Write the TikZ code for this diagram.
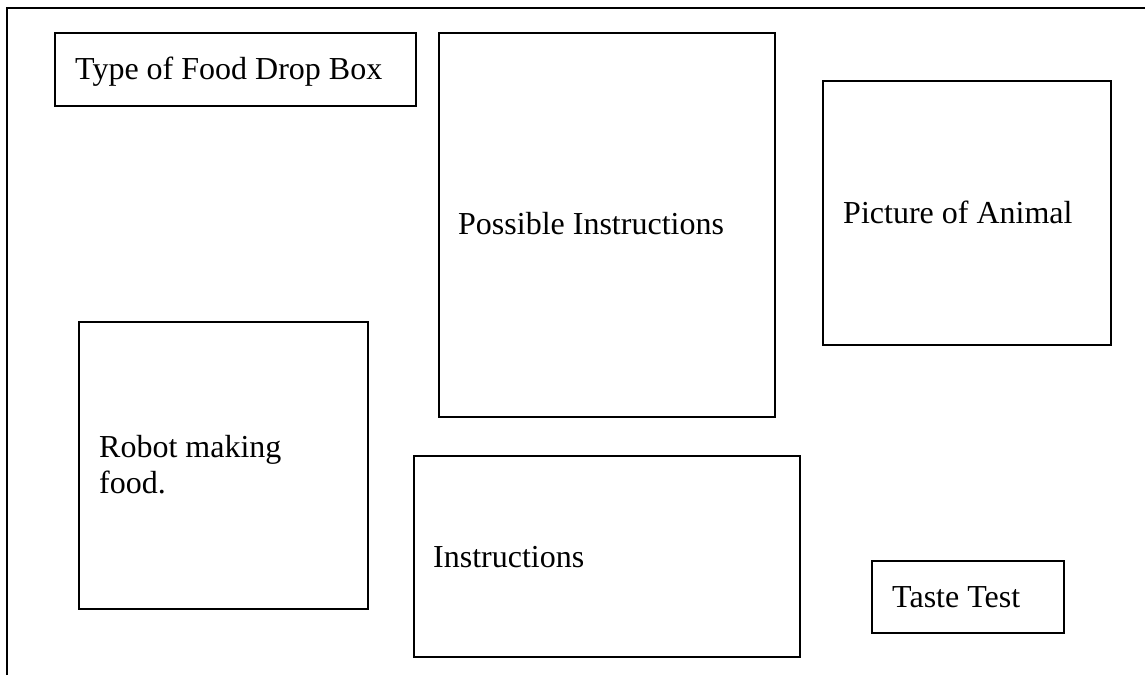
\documentclass[tikz,border=0pt]{standalone}
\usepackage{fontspec}
\setmainfont{Liberation Serif}
\begin{document}
\begin{tikzpicture}[x=1pt,y=-1pt,
  box/.style={draw=black,line width=1.8pt,anchor=north west,inner sep=0pt,minimum width=#1},
  label/.style={anchor=base west,inner sep=0pt,font=\fontsize{32}{36}\selectfont}]
\useasboundingbox (0,0) rectangle (1145,675);
\draw[line width=2pt] (7,675) -- (7,8) -- (1145,8);
\node[box=361pt,minimum height=73pt] (typebox) at (54,32) {};
\node[box=336pt,minimum height=384pt] (possbox) at (438,32) {};
\node[box=288pt,minimum height=264pt] (animalbox) at (822,80) {};
\node[box=289pt,minimum height=287pt] (robotbox) at (78,321) {};
\node[box=386pt,minimum height=201pt] (instrbox) at (413,455) {};
\node[box=192pt,minimum height=72pt] (tastebox) at (871,560) {};
\node[label] (typetext) at (75,79) {Type of Food Drop Box};
\node[label] (posstext) at (458,234) {Possible Instructions};
\node[label] (animaltext) at (843,223) {Picture of Animal};
\node[label] (robottext) at (99,457) {\parbox[t]{300pt}{\fontsize{32}{36}\selectfont Robot making\\food.}};
\node[label] (instrtext) at (433,567) {Instructions};
\node[label] (tastetext) at (892,607) {Taste Test};
\end{tikzpicture}
\end{document}
